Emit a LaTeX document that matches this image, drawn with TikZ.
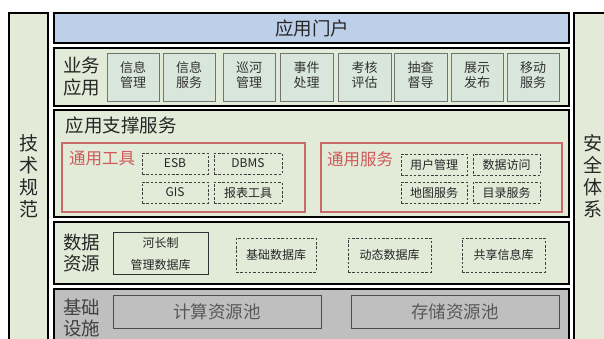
\documentclass[tikz,border=0pt]{standalone}
\usepackage{fontspec}
\setmainfont{Noto Sans CJK SC}
\usetikzlibrary{fit,calc}
\definecolor{colfill}{HTML}{E3EBD8}
\definecolor{boxfill}{HTML}{E2EAD8}
\definecolor{subfill}{HTML}{D8E6DC}
\definecolor{portalblue}{HTML}{BDD0E9}
\definecolor{infragray}{HTML}{BFBFBF}
\definecolor{redline}{HTML}{C96A6A}
\definecolor{redtext}{HTML}{D05A5A}
\definecolor{darktext}{HTML}{262626}
\tikzset{
  frame/.style={draw=black, line width=2pt, fill=boxfill, inner sep=0pt},
  subbox/.style={draw=gray!90!black, line width=1pt, fill=subfill, inner sep=0pt},
  dbox/.style={draw=black!75, line width=0.8pt, dash pattern=on 2.5pt off 1.8pt, inner sep=0pt},
  redbox/.style={draw=redline, line width=2pt, inner sep=0pt},
  poolbox/.style={draw=gray!60!black, line width=1pt, fill=infragray, inner sep=0pt},
  big/.style={font=\fontsize{18.5}{22}\selectfont, text=darktext, inner sep=0pt},
  small/.style={font=\fontsize{13}{15}\selectfont, text=black!80, align=center, inner sep=0pt},
  tiny/.style={font=\fontsize{12}{14}\selectfont, text=black!85, inner sep=0pt},
}
\begin{document}
\begin{tikzpicture}[x=1pt,y=-1pt]
\useasboundingbox[fill=white] (0,0) rectangle (604,338);
% side columns
\node[frame, fill=colfill, fit={(9,13) (48,350)}] (left) {};
\node[frame, fill=colfill, fit={(574,13) (612,350)}] (right) {};
\foreach \c/\y [count=\i] in {技/143,术/165,规/187,范/209}
  \node[big, font=\fontsize{19}{22}\selectfont] (l\i) at (28.5,\y) {\c};
\foreach \c/\y [count=\i] in {安/143,全/165,体/187,系/209}
  \node[big, font=\fontsize{19}{22}\selectfont] (r\i) at (592.5,\y) {\c};
% portal
\node[frame, fill=portalblue, fit={(54,13) (569,43)}] (portal) {};
\node[big] (portalt) at (312,28) {应用门户};
% business apps
\node[frame, fit={(54,48) (569,106)}] (biz) {};
\node[big] (biz1) at (81.5,65) {业务};
\node[big] (biz2) at (81.5,87) {应用};
\foreach \a/\b/\t [count=\i] in {107/159/信息\\管理, 163/215/信息\\服务, 223/275/巡河\\管理, 280/333/事件\\处理, 338/391/考核\\评估, 394/447/抽查\\督导, 451/503/展示\\发布, 507/559/移动\\服务}{
  \node[subbox, fit={(\a,53) (\b,101)}] (s\i) {};
  \node[small] (st\i) at ($(s\i.center)+(0,-2)$) {\t};
}
% support services
\node[frame, fit={(54,110) (569,217)}] (sup) {};
\node[big] (supt) at (121,125) {应用支撑服务};
\node[redbox, fit={(62,143) (305,212)}] (tools) {};
\node[big, font=\fontsize{16.5}{20}\selectfont, text=redtext] (toolst) at (102,159) {通用工具};
\node[redbox, fit={(321,143) (562,212)}] (svc) {};
\node[big, font=\fontsize{16.5}{20}\selectfont, text=redtext] (svct) at (360,159) {通用服务};
\node[dbox, fit={(142,153) (208,174)}] (esb) {};
\node[tiny] at (esb.center) {ESB};
\node[dbox, fit={(214,153) (282,174)}] (dbms) {};
\node[tiny] at (dbms.center) {DBMS};
\node[dbox, fit={(142,182) (208,203)}] (gis) {};
\node[tiny] at (gis.center) {GIS};
\node[dbox, fit={(214,182) (282,203)}] (rpt) {};
\node[tiny] at (rpt.center) {报表工具};
\node[dbox, fit={(401,154) (467,175)}] (user) {};
\node[tiny] at (user.center) {用户管理};
\node[dbox, fit={(473,154) (540,175)}] (acc) {};
\node[tiny] at (acc.center) {数据访问};
\node[dbox, fit={(401,182) (467,203)}] (map) {};
\node[tiny] at (map.center) {地图服务};
\node[dbox, fit={(473,182) (540,203)}] (cat) {};
\node[tiny] at (cat.center) {目录服务};
% data resources
\node[frame, fit={(54,222) (569,284)}] (data) {};
\node[big] (data1) at (81.5,242) {数据};
\node[big] (data2) at (81.5,264) {资源};
\node[draw=black!80, line width=1pt, inner sep=0pt, fit={(113,232) (208,274)}] (hz) {};
\node[tiny] (hz1) at (160.5,243) {河长制};
\node[tiny] (hz2) at (160.5,265) {管理数据库};
\node[dbox, fit={(236,238) (316,272)}] (base) {};
\node[tiny] at (base.center) {基础数据库};
\node[dbox, fit={(348,238) (431,272)}] (dyn) {};
\node[tiny] at (dyn.center) {动态数据库};
\node[dbox, fit={(462,238) (545,272)}] (share) {};
\node[tiny] at (share.center) {共享信息库};
% infrastructure
\node[frame, fill=infragray, fit={(54,289) (569,350)}] (infra) {};
\node[big, text=black!75] (inf1) at (81.5,307) {基础};
\node[big, text=black!75] (inf2) at (81.5,328) {设施};
\node[poolbox, fit={(113,295) (321,328)}] (comp) {};
\node[big, font=\fontsize{17.5}{20}\selectfont, text=black!65] at (comp.center) {计算资源池};
\node[poolbox, fit={(351,295) (559,328)}] (stor) {};
\node[big, font=\fontsize{17.5}{20}\selectfont, text=black!65] at (stor.center) {存储资源池};
\end{tikzpicture}
\end{document}
